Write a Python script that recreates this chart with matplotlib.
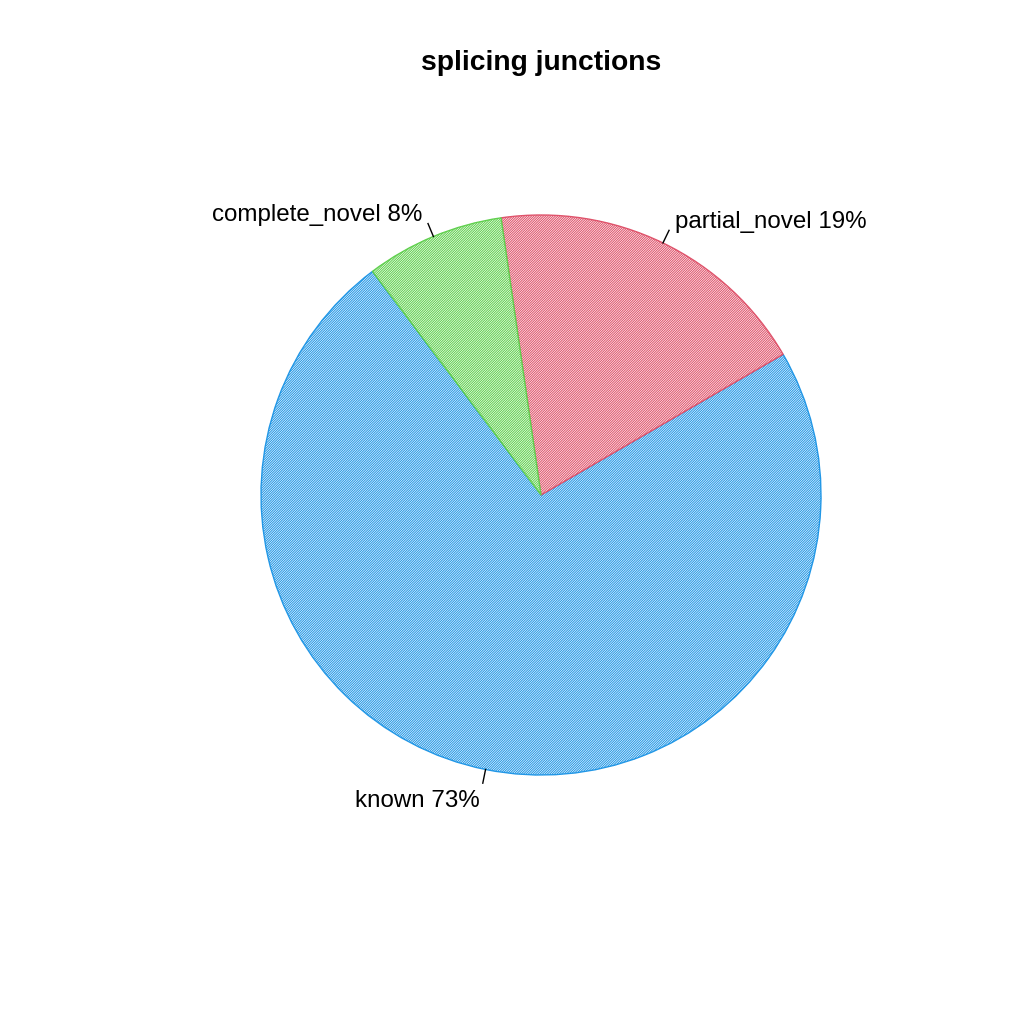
import numpy as np
import matplotlib
matplotlib.use("Agg")
import matplotlib.pyplot as plt

plt.rcParams['font.family'] = ['Liberation Sans', 'DejaVu Sans']
plt.rcParams['hatch.linewidth'] = 0.75

labels = ["known", "partial_novel", "complete_novel"]
values = [0.731, 0.189, 0.080]
colors = ["#2297E6", "#DF536B", "#61D04F"]
title = "splicing junctions"

fig = plt.figure(figsize=(10.24, 10.24), dpi=100)
ax = fig.add_axes([0, 0, 1, 1])

cx, cy, r = 541, 529, 280
wedges, _ = ax.pie(values, colors=["white"] * 3, startangle=127, counterclock=True,
                   center=(cx, cy), radius=r,
                   wedgeprops=dict(linewidth=1.0))
for w, c in zip(wedges, colors):
    w.set_edgecolor(c)
    w.set_hatch("/" * 14)

for w, lab, v in zip(wedges, labels, values):
    mid = np.deg2rad((w.theta1 + w.theta2) / 2)
    ca, sa = np.cos(mid), np.sin(mid)
    ax.plot([cx + r * ca, cx + 1.05 * r * ca], [cy + r * sa, cy + 1.05 * r * sa],
            color="black", lw=1)
    ha = "left" if ca > 0 else "right"
    ax.text(cx + 1.1 * r * ca, cy + 1.1 * r * sa - 4, f"{lab} {round(v * 100)}%",
            ha=ha, va="center", fontsize=17.4)

ax.text(cx, 1024 - 63, title, ha="center", va="center", fontsize=20.3, fontweight="bold")

ax.set_xlim(0, 1024)
ax.set_ylim(0, 1024)
ax.set_aspect("equal")
ax.axis("off")
fig.savefig("out.png", dpi=100)
